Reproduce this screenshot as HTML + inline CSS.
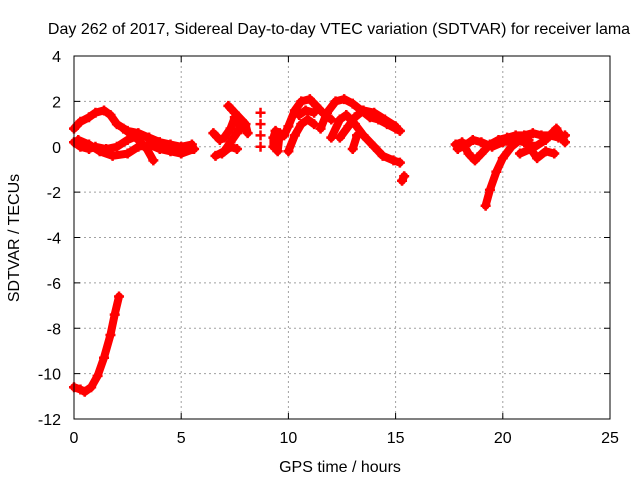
<!DOCTYPE html>
<html><head><meta charset="utf-8"><style>
body{margin:0;background:#fff;}
svg text{font-family:"Liberation Sans",sans-serif;font-size:16px;fill:#000;}
</style></head><body>
<svg width="640" height="480" id="c">
<rect width="640" height="480" fill="#fff"/>
<text x="339" y="34" text-anchor="middle">Day 262 of 2017, Sidereal Day-to-day VTEC variation (SDTVAR) for receiver lama</text>
<text x="340" y="472" text-anchor="middle">GPS time / hours</text>
<text transform="translate(19,238) rotate(-90)" text-anchor="middle">SDTVAR / TECUs</text>
<g id="grid"></g><g id="data"></g>
<rect x="74" y="56" width="536" height="363" fill="none" stroke="#000"/>
</svg>
<script>
const xTicks=[0,5,10,15,20,25];
const yTicks=[4,2,0,-2,-4,-6,-8,-10,-12];
const trackA=[[0,0.8],[0.3,1.1],[0.7,1.3],[1,1.5],[1.4,1.6],[1.7,1.4],[2,1.0],[2.5,0.7],[3,0.6],[3.5,0.4],[4,0.2],[4.5,0.1],[5,0.0],[5.5,0.1]];
const trackB=[[0,0.2],[0.3,0.0],[0.7,-0.1],[1,0.0],[1.5,-0.1],[2,0.0],[2.5,0.3],[3,0.5],[3.5,0.4],[4,0.2],[4.5,-0.1],[5,-0.3],[5.5,-0.1]];
const trackC=[[0.2,0.3],[0.7,0.1],[1.2,-0.2],[1.8,-0.4],[2.5,-0.3],[3,0],[3.5,0.1],[4,-0.1],[4.5,-0.2],[5,-0.3],[5.6,-0.1]];
const trackD=[[2.3,0.8],[2.6,0.6],[3,0.3],[3.4,-0.1],[3.7,-0.6]];
const trackDip=[[0,-10.6],[0.3,-10.7],[0.5,-10.8],[0.8,-10.6],[1.1,-10.1],[1.4,-9.3],[1.7,-8.3],[1.9,-7.4],[2.1,-6.6]];
const trackE=[[6.5,0.6],[6.8,0.3],[7,0.4],[7.3,0.8],[7.5,1.3],[7.8,0.8]];
const trackF=[[6.6,-0.4],[7,-0.2],[7.3,0.2],[7.6,0.6],[7.8,1.0]];
const trackG=[[7.2,1.8],[7.5,1.5],[8,1.0],[8.1,0.6]];
const trackH=[[6.9,-0.3],[7.3,0],[7.6,-0.1]];
const trackI=[[8.7,1.5]];const trackI2=[[8.7,1.0]];const trackI3=[[8.7,0.5]];const trackI4=[[8.7,0.0]];
const trackJ=[[9.3,0.0],[9.3,0.4],[9.4,0.7],[9.6,0.6],[9.5,-0.2]];
const trackK=[[9.8,0.5],[10,0.9],[10.3,1.6],[10.6,2.0],[11,2.1],[11.3,1.8],[11.6,1.5],[12,1.2]];
const trackL=[[10,-0.2],[10.3,0.5],[10.6,1.0],[10.9,1.2],[11.2,1.0]];
const trackM=[[10.5,1.4],[10.8,1.6],[11.2,1.5]];
const trackN=[[11.5,0.8],[11.8,1.5],[12.2,2.0],[12.6,2.1],[13,1.9],[13.4,1.6],[13.8,1.3],[14.2,1.2],[14.6,1.0],[15,0.8],[15.2,0.7]];
const trackO=[[12,0.4],[12.4,1.2],[12.7,1.4],[13.1,1.0],[13.5,0.5],[14,0],[14.4,-0.4],[14.9,-0.6],[15.2,-0.7]];
const trackP=[[12.4,0.4],[12.8,0.9],[13.1,1.3],[13.5,1.6],[14,1.5],[14.5,1.2],[15,0.9]];
const trackQ=[[13,-0.1],[13.2,0.5]];
const trackR=[[15.3,-1.5],[15.4,-1.3]];
const trackS=[[17.8,0.1],[18.1,0.2],[18.4,-0.3],[18.7,-0.6],[19,-0.3],[19.4,0.1],[19.8,0.3],[20.2,0.4],[20.6,0.5],[21,0.5],[21.4,0.6],[21.8,0.5],[22.2,0.5],[22.6,0.4],[22.9,0.5]];
const trackT=[[17.9,-0.1],[18.3,0.1],[18.6,0.3],[19,0.2],[19.5,0.0],[20,0.2],[20.5,0.3],[21,0.2],[21.5,0.0],[22,0.3],[22.5,0.8],[22.9,0.2]];
const trackU=[[19.2,-2.6],[19.4,-1.9],[19.7,-1.1],[20,-0.5],[20.4,0.0],[20.8,0.3],[21.2,0.3]];
const trackV=[[20.8,-0.3],[21.3,-0.1],[21.6,-0.5],[22,-0.2],[22.4,-0.3]];
const tracks=[trackA,trackB,trackC,trackD,trackDip,trackE,trackF,trackG,trackH,trackI,trackI2,trackI3,trackI4,trackJ,trackK,trackL,trackM,trackN,trackO,trackP,trackQ,trackR,trackS,trackT,trackU,trackV];
const NS="http://www.w3.org/2000/svg";
const X=t=>74+t*536/25, Y=v=>56+(4-v)*363/16;
const grid=document.getElementById('grid'), data=document.getElementById('data');
function mk(tag,attrs,parent){const e=document.createElementNS(NS,tag);for(const k in attrs)e.setAttribute(k,attrs[k]);parent.appendChild(e);return e;}
xTicks.forEach(t=>{const x=X(t);
 if(t>0&&t<25){const g=mk('line',{x1:x,x2:x,y1:56,y2:419,stroke:'#a0a0a0','stroke-dasharray':'2,3'},grid);}
 mk('line',{x1:x,x2:x,y1:419,y2:413,stroke:'#000'},grid);mk('line',{x1:x,x2:x,y1:56,y2:62,stroke:'#000'},grid);
 const l=mk('text',{x:x,y:443,'text-anchor':'middle'},grid);l.textContent=t;
 });
yTicks.forEach(v=>{const y=Y(v);
 if(v<4&&v>-12){const g=mk('line',{x1:74,x2:610,y1:y,y2:y,stroke:'#a0a0a0','stroke-dasharray':'2,3'},grid);}
 mk('line',{x1:74,x2:80,y1:y,y2:y,stroke:'#000'},grid);mk('line',{x1:610,x2:604,y1:y,y2:y,stroke:'#000'},grid);
 const l=mk('text',{x:61,y:y+6,'text-anchor':'end'},grid);l.textContent=v;
 });
tracks.forEach(tr=>{
 const d=tr.map((p,i)=>(i?'L':'M')+X(p[0]).toFixed(1)+','+Y(p[1]).toFixed(1)).join('');
 const path=mk('path',{d:d,fill:'none',stroke:'#f00','stroke-width':8,'stroke-linejoin':'round','stroke-linecap':'round'},data);
 
 
 tr.forEach(p=>{const x=X(p[0]),y=Y(p[1]);
  const m=mk('path',{d:`M${x-5},${y}h10M${x},${y-5}v10`,stroke:'#f00','stroke-width':2.5},data);
  
  });
});
</script>
</body></html>
